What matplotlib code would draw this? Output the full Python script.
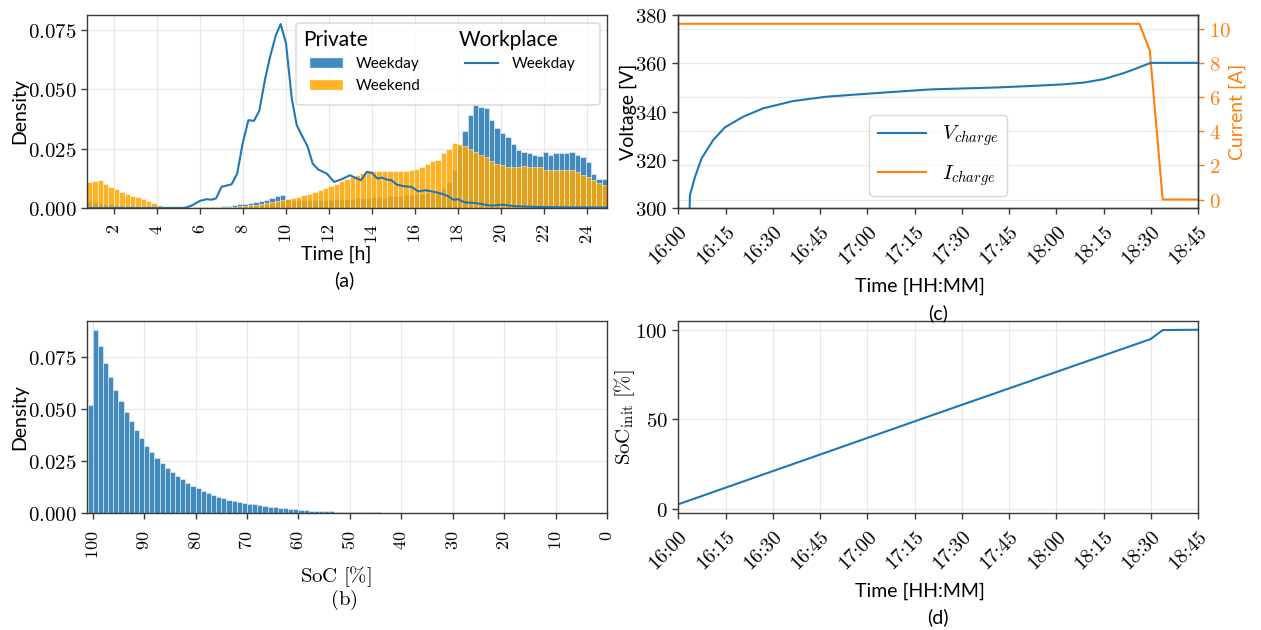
import numpy as np
import matplotlib
matplotlib.use("Agg")
import matplotlib.pyplot as plt
from matplotlib.patches import Patch, FancyBboxPatch
from matplotlib.lines import Line2D
from matplotlib.ticker import FuncFormatter, FixedLocator

plt.rcParams['mathtext.fontset'] = 'cm'
plt.rcParams['font.family'] = ['Lato', 'DejaVu Sans']

# ---------------- data: panel (a) ----------------
hour_bin_edges = np.linspace(0.744, 24.93, 98)
weekday_private = [
    0.0030, 0.0026, 0.0022, 0.0018, 0.0015, 0.0012, 0.0010, 0.0008, 0.0007, 0.0006,
    0.0005, 0.0004, 0.0003, 0.0003, 0.0002, 0.0002, 0.0002, 0.0002, 0.0002, 0.0002,
    0.0002, 0.0003, 0.0003, 0.0004, 0.0005, 0.0007, 0.0009, 0.0012, 0.0015, 0.0018,
    0.0022, 0.0026, 0.0029, 0.0033, 0.0042, 0.0052, 0.0054, 0.0036, 0.0034, 0.0033,
    0.0033, 0.0033, 0.0034, 0.0034, 0.0035, 0.0035, 0.0036, 0.0037, 0.0039, 0.0040,
    0.0041, 0.0043, 0.0044, 0.0045, 0.0046, 0.0047, 0.0049, 0.0050, 0.0052, 0.0054,
    0.0056, 0.0058, 0.0061, 0.0064, 0.0068, 0.0072, 0.0085, 0.0110, 0.0160, 0.0260,
    0.0325, 0.0390, 0.0435, 0.0426, 0.0420, 0.0370, 0.0338, 0.0314, 0.0297, 0.0268,
    0.0244, 0.0236, 0.0232, 0.0222, 0.0218, 0.0234, 0.0222, 0.0230, 0.0230, 0.0230,
    0.0234, 0.0222, 0.0215, 0.0194, 0.0145, 0.0124, 0.0122]
weekend_private = [
    0.0108, 0.0115, 0.0120, 0.0102, 0.0090, 0.0078, 0.0068, 0.0058, 0.0052, 0.0045,
    0.0038, 0.0030, 0.0022, 0.0014, 0.0010, 0.0008, 0.0008, 0.0007, 0.0006, 0.0005,
    0.0004, 0.0004, 0.0004, 0.0004, 0.0004, 0.0005, 0.0005, 0.0006, 0.0007, 0.0009,
    0.0011, 0.0014, 0.0017, 0.0021, 0.0025, 0.0029, 0.0033, 0.0037, 0.0042, 0.0048,
    0.0054, 0.0061, 0.0068, 0.0076, 0.0084, 0.0093, 0.0102, 0.0112, 0.0122, 0.0132,
    0.0140, 0.0148, 0.0153, 0.0155, 0.0155, 0.0155, 0.0154, 0.0154, 0.0154, 0.0155,
    0.0160, 0.0166, 0.0172, 0.0184, 0.0198, 0.0204, 0.0230, 0.0250, 0.0274, 0.0268,
    0.0260, 0.0250, 0.0236, 0.0222, 0.0215, 0.0200, 0.0187, 0.0180, 0.0172, 0.0172,
    0.0172, 0.0175, 0.0173, 0.0173, 0.0172, 0.0162, 0.0159, 0.0159, 0.0159, 0.0159,
    0.0158, 0.0152, 0.0140, 0.0130, 0.0117, 0.0105, 0.0096]
workplace_hours = [0.8, 5.2, 5.4, 5.6, 6.0, 6.3, 6.55, 6.75, 7.0, 7.47, 7.73, 7.98,
                   8.25, 8.51, 8.76, 9.02, 9.26, 9.53, 9.75, 10.0, 10.27, 10.5, 10.73,
                   11.0, 11.24, 11.5, 11.9, 12.23, 12.56, 12.98, 13.2, 13.49, 13.75,
                   13.98, 14.25, 14.45, 14.68, 14.91, 15.14, 15.46, 15.84, 16.15, 16.47,
                   16.9, 17.32, 17.55, 17.78, 18.0, 18.3, 18.8, 19.26, 19.57, 20.03,
                   20.65, 21.1, 21.9, 22.67, 24.2, 24.9]
workplace_weekday = [0.0, 0.0, 0.0003, 0.001, 0.003, 0.0037, 0.0035, 0.0041, 0.0089,
                     0.0100, 0.0145, 0.0270, 0.0370, 0.0367, 0.0410, 0.0540, 0.0637,
                     0.0729, 0.0775, 0.0694, 0.0460, 0.0349, 0.0307, 0.0260, 0.0187,
                     0.0162, 0.0145, 0.0110, 0.0120, 0.0138, 0.0128, 0.0117, 0.0152,
                     0.0149, 0.0124, 0.0128, 0.0120, 0.0117, 0.0099, 0.0092, 0.0089,
                     0.0070, 0.0075, 0.0068, 0.0058, 0.0049, 0.0035, 0.0037, 0.0024,
                     0.0021, 0.0014, 0.0010, 0.0014, 0.0008, 0.0006, 0.0004, 0.0003,
                     0.0002, 0.0002]
hour_ticks = [2, 4, 6, 8, 10, 12, 14, 16, 18, 20, 22, 24]

# ---------------- data: panel (b) ----------------
soc_bin_upper = list(range(101, 44, -1))
soc_density = [
    0.0520, 0.0880, 0.0800, 0.0722, 0.0653, 0.0590, 0.0536, 0.0483, 0.0441, 0.0398,
    0.0359, 0.0324, 0.0295, 0.0266, 0.0242, 0.0218, 0.0196, 0.0180, 0.0161, 0.0145,
    0.0132, 0.0118, 0.0107, 0.0096, 0.0087, 0.0078, 0.0070, 0.0063, 0.0058, 0.0053,
    0.0049, 0.0045, 0.0041, 0.0037, 0.0034, 0.0031, 0.0028, 0.0025, 0.0022, 0.0020,
    0.0018, 0.0016, 0.0014, 0.0012, 0.0011, 0.0010, 0.0009, 0.0008, 0.0007, 0.0006,
    0.0005, 0.0005, 0.0004, 0.0004, 0.0003, 0.0003, 0.0003]
soc_ticks = [100, 90, 80, 70, 60, 50, 40, 30, 20, 10, 0]

# ---------------- data: panels (c) and (d) ----------------
time_min_v = [3.0, 3.7, 5.3, 7.4, 11.1, 14.8, 20.6, 27.0, 36.5, 47.1, 63.0, 80.0,
              90.4, 101.0, 111.6, 122.1, 128.5, 134.8, 141.2, 145.4, 149.9, 165.0]
voltage = [270.0, 305.5, 313.0, 320.7, 328.3, 333.5, 337.9, 341.4, 344.4, 346.2, 347.7,
           349.2, 349.6, 350.0, 350.6, 351.3, 352.0, 353.4, 355.9, 357.9, 360.2, 360.2]
time_min_i = [0.0, 146.3, 149.6, 153.7, 165.0]
current = [10.3, 10.3, 8.74, 0.0, 0.0]
time_min_soc = [0.0, 83.0, 149.9, 153.7, 165.0]
soc_init = [2.6, 53.8, 94.8, 99.8, 100.0]
time_ticks = [0, 15, 30, 45, 60, 75, 90, 105, 120, 135, 150, 165]
time_labels = ['16:00', '16:15', '16:30', '16:45', '17:00', '17:15',
               '17:30', '17:45', '18:00', '18:15', '18:30', '18:45']

# ---------------- styling ----------------
BLUE = '#1f77b4'
ORANGE_BAR = '#ffa500'
ORANGE = '#ff7f0e'
SPINE = '#3a3a3a'
GRID = '#e8e8e8'
W, H = 1261, 630


def box(l, t, r, b):
    return [l / W, 1 - b / H, (r - l) / W, (b - t) / H]


def style(ax, gx=True, gy=True, xpad=8):
    for s in ax.spines.values():
        s.set_color(SPINE)
        s.set_linewidth(1.0)
    ax.tick_params(direction='out', length=4, width=1, color=SPINE,
                   labelsize=15)
    ax.tick_params(axis='x', labelsize=13, pad=xpad)
    if gx:
        ax.grid(True, axis='x', color=GRID, lw=0.8)
    if gy:
        ax.grid(True, axis='y', color=GRID, lw=0.8)
    ax.set_axisbelow(True)


math_fmt3 = FuncFormatter(lambda v, p: r'$%.3f$' % v)
math_int = FuncFormatter(lambda v, p: r'$%d$' % round(v))

fig = plt.figure(figsize=(W / 100, H / 100), dpi=100)

# ---------------- (a) ----------------
ax_a = fig.add_axes(box(87, 15, 607, 208))
style(ax_a, xpad=7.5)
lefts = hour_bin_edges[:-1]
widths = np.diff(hour_bin_edges)
ax_a.bar(lefts, weekday_private, width=widths, align='edge', color=BLUE, alpha=0.85,
         edgecolor='white', linewidth=0.4)
ax_a.bar(lefts, weekend_private, width=widths, align='edge', color=ORANGE_BAR, alpha=0.85,
         edgecolor='white', linewidth=0.4)
ax_a.plot(workplace_hours, workplace_weekday, color=BLUE, lw=1.5)
ax_a.set_xlim(0.744, 24.93)
ax_a.set_ylim(0, 0.0813)
ax_a.xaxis.set_major_locator(FixedLocator(hour_ticks))
ax_a.xaxis.set_major_formatter(math_int)
ax_a.set_yticks([0, 0.025, 0.05, 0.075])
ax_a.yaxis.set_major_formatter(math_fmt3)
plt.setp(ax_a.get_xticklabels(), rotation=90)
ax_a.set_xlabel('Time [h]', fontsize=14)
ax_a.xaxis.set_label_coords(0.479, -0.197)
ax_a.set_ylabel('Density', fontsize=14)
ax_a.yaxis.set_label_coords(-0.113, 0.5)

# legend frame drawn explicitly (behind entries), entries via legend without frame
frame = FancyBboxPatch((296 / W, 1 - 105 / H), 304 / W, 82 / H,
                       boxstyle='round,pad=0,rounding_size=0.004',
                       transform=fig.transFigure, facecolor='white', alpha=0.8,
                       edgecolor='#cccccc', linewidth=1.0, zorder=4, clip_on=False)
ax_a.add_patch(frame)
handles = [Patch(facecolor=BLUE, alpha=0.85, edgecolor='white'),
           Patch(facecolor=ORANGE_BAR, alpha=0.85, edgecolor='white'),
           Line2D([], [], color=BLUE, lw=1.5),
           Patch(visible=False)]
labels = ['Weekday', 'Weekend', 'Weekday', '']
leg = ax_a.legend(handles, labels, ncol=2, loc='upper left',
                  bbox_to_anchor=((309 - 87) / 520, 1 - (57 - 15) / 193),
                  fontsize=11, handlelength=2.2, handletextpad=0.85,
                  columnspacing=2.9, borderpad=0, borderaxespad=0, frameon=False)
leg.set_zorder(6)
ax_a.text(0.415, 0.872, 'Private', transform=ax_a.transAxes, fontsize=15,
          va='center', ha='left', zorder=10)
ax_a.text(0.715, 0.872, 'Workplace', transform=ax_a.transAxes, fontsize=15,
          va='center', ha='left', zorder=10)
fig.text(344 / W, 1 - 280 / H, '(a)', fontsize=14, ha='center', va='center')

# ---------------- (b) ----------------
ax_b = fig.add_axes(box(87, 321, 607, 513))
style(ax_b, xpad=9)
soc_lower = [u - 1 for u in soc_bin_upper]
ax_b.bar(soc_lower, soc_density, width=1.0, align='edge', color=BLUE, alpha=0.85,
         edgecolor='white', linewidth=0.4)
ax_b.set_xlim(101.1, 0)
ax_b.set_ylim(0, 0.0922)
ax_b.xaxis.set_major_locator(FixedLocator(soc_ticks))
ax_b.xaxis.set_major_formatter(math_int)
ax_b.set_yticks([0, 0.025, 0.05, 0.075])
ax_b.yaxis.set_major_formatter(math_fmt3)
plt.setp(ax_b.get_xticklabels(), rotation=90)
ax_b.set_xlabel(r'$\mathrm{SoC}\ [\%]$', fontsize=15)
ax_b.xaxis.set_label_coords(0.479, -0.268)
ax_b.set_ylabel('Density', fontsize=14)
ax_b.yaxis.set_label_coords(-0.113, 0.5)
fig.text(344 / W, 1 - 600 / H, r'$\mathrm{(b)}$', fontsize=15, ha='center', va='center')

# ---------------- (c) ----------------
ax_c = fig.add_axes(box(678.3, 15, 1198.3, 208.3))
style(ax_c, gx=False, gy=False, xpad=6.5)
l1, = ax_c.plot(time_min_v, voltage, color=BLUE, lw=1.5)
ax_c.set_ylim(300, 380)
ax_c.set_xlim(0, 165)
ax_c.set_yticks([300, 320, 340, 360, 380])
ax_c.yaxis.set_major_formatter(math_int)
ax_c.xaxis.set_major_locator(FixedLocator(time_ticks))
ax_c.set_xticklabels(time_labels, rotation=45, ha='right',
                     rotation_mode='anchor', fontfamily='cmr10', fontsize=14.5)
ax_c.set_xlabel('Time [HH:MM]', fontsize=14)
ax_c.xaxis.set_label_coords(0.465, -0.36)
ax_c.set_ylabel('Voltage [V]', fontsize=14)
ax_c.yaxis.set_label_coords(-0.079, 0.5)
ax_c2 = ax_c.twinx()
style(ax_c2, gx=False, gy=True)
ax_c2.set_zorder(ax_c.get_zorder() - 1)
ax_c.patch.set_visible(False)
l2, = ax_c2.plot(time_min_i, current, color=ORANGE, lw=1.5)
ax_c2.set_yticks([0, 2, 4, 6, 8, 10])
ax_c2.yaxis.set_major_formatter(math_int)
ax_c2.tick_params(axis='y', colors=ORANGE, labelsize=15)
ax_c2.set_ylabel('Current [A]', fontsize=14, color=ORANGE)
ax_c2.yaxis.set_label_coords(1.058, 0.5)
ax_c.legend([l1, l2], [r'$V_{charge}$', r'$I_{charge}$'], loc='lower center',
            bbox_to_anchor=(0.5, 0.0636), borderaxespad=0, fontsize=15,
            handlelength=2.3, labelspacing=0.7, framealpha=0.8, edgecolor='#cccccc')
fig.text(938 / W, 1 - 313 / H, '(c)', fontsize=14, ha='center', va='center')

# ---------------- (d) ----------------
ax_d = fig.add_axes(box(678.3, 321, 1198.3, 513))
style(ax_d, xpad=6.5)
ax_d.plot(time_min_soc, soc_init, color=BLUE, lw=1.5)
ax_d.set_xlim(0, 165)
ax_d.set_yticks([0, 50, 100])
ax_d.yaxis.set_major_formatter(math_int)
ax_d.xaxis.set_major_locator(FixedLocator(time_ticks))
ax_d.set_xticklabels(time_labels, rotation=45, ha='right',
                     rotation_mode='anchor', fontfamily='cmr10', fontsize=14.5)
ax_d.set_xlabel('Time [HH:MM]', fontsize=14)
ax_d.xaxis.set_label_coords(0.465, -0.365)
ax_d.set_ylabel(r'$\mathrm{SoC}_{\mathrm{init}}\ [\%]$', fontsize=15)
ax_d.yaxis.set_label_coords(-0.079, 0.5)
fig.text(938 / W, 1 - 617 / H, '(d)', fontsize=14, ha='center', va='center')

fig.savefig('out.png', dpi=100)
